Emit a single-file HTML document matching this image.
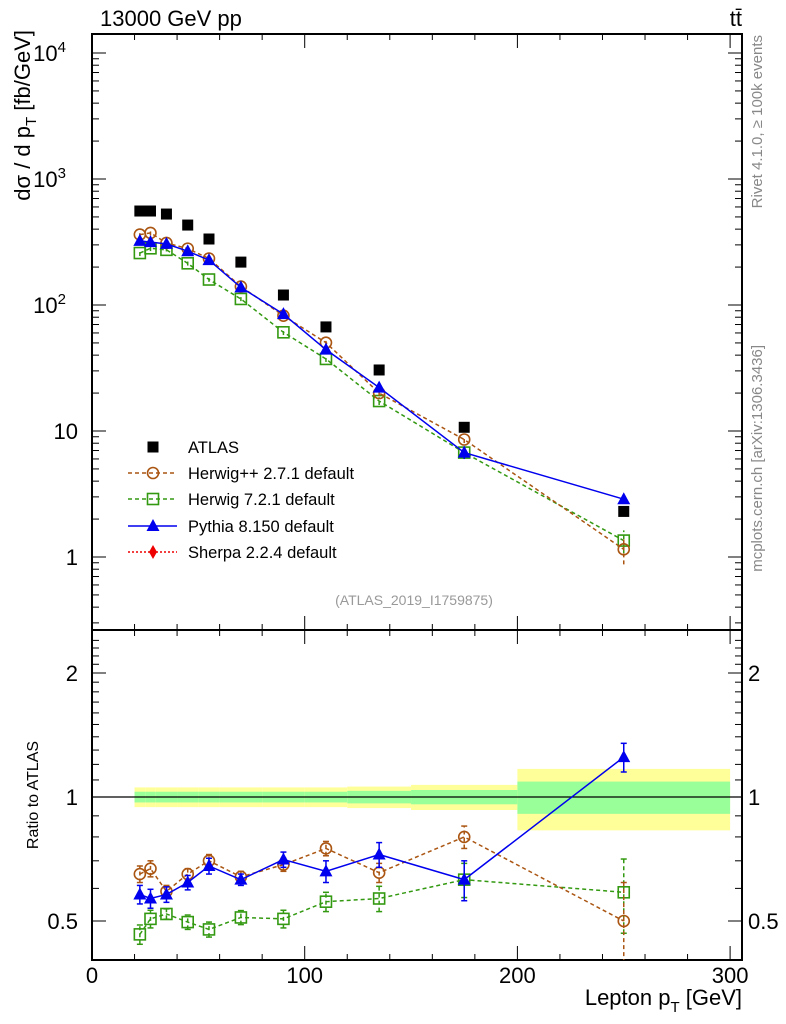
<!DOCTYPE html>
<html><head><meta charset="utf-8"><style>
html,body{margin:0;padding:0;background:#fff;}
svg{display:block;font-family:"Liberation Sans",sans-serif;}
</style></head><body>
<svg id="c" width="786" height="1024" viewBox="0 0 786 1024" xmlns="http://www.w3.org/2000/svg">
</svg>
<script>
const xCenters=[22.5,27.5,35,45,55,70,90,110,135,175,250];
const binEdges=[20,25,30,40,50,60,80,100,120,150,200,300];
const atlas=[557,557,527,431,334,219,120,67,30.5,10.7,2.3];
const bandInner=[0.03,0.03,0.03,0.03,0.03,0.03,0.03,0.03,0.035,0.04,0.09];
const bandOuter=[0.055,0.055,0.055,0.055,0.055,0.055,0.055,0.055,0.06,0.07,0.17];
const herwigppRatio=[0.65,0.67,0.59,0.65,0.70,0.64,0.685,0.75,0.655,0.80,0.50];
const herwig7Ratio=[0.464,0.506,0.52,0.497,0.477,0.51,0.506,0.557,0.567,0.63,0.587];
const pythiaRatio=[0.58,0.567,0.58,0.62,0.68,0.63,0.705,0.66,0.725,0.63,1.25];
const herwigppErr=[0.03,0.03,0.02,0.02,0.025,0.02,0.025,0.03,0.035,0.05,0.12];
const herwig7Err=[0.025,0.025,0.015,0.02,0.02,0.02,0.025,0.03,0.04,0.06,0.12];
const pythiaErr=[0.03,0.03,0.025,0.025,0.03,0.02,0.03,0.04,0.05,0.07,0.1];
const ratioTicks=[0.5,1,2];

const NS="http://www.w3.org/2000/svg";
const svg=document.getElementById('c');
const L=92,R=742,T=34,MB=630,RB=960;
function X(v){return 92+v*2.127;}
function Y(v){return 557-126*Math.log10(v);}
function YR(r){return 797-124*Math.log2(r);}
function el(tag,attrs,parent){const e=document.createElementNS(NS,tag);for(const k in attrs)e.setAttribute(k,attrs[k]);(parent||svg).appendChild(e);return e;}
function txt(s,attrs,parent){const t=el('text',attrs,parent);t.textContent=s;return t;}

const defs=el('defs',{});
const cp1=el('clipPath',{id:'cm'},defs);el('rect',{x:L,y:T,width:R-L,height:MB-T},cp1);
const cp2=el('clipPath',{id:'cr'},defs);el('rect',{x:L,y:MB,width:R-L,height:RB-MB},cp2);

const gBand=el('g',{'clip-path':'url(#cr)'});


for(let i=0;i<atlas.length;i++){
  const x0=X(binEdges[i]),x1=X(binEdges[i+1]);
  const r1=el('rect',{x:x0,y:YR(1+bandOuter[i]),width:x1-x0,height:YR(1-bandOuter[i])-YR(1+bandOuter[i]),fill:'#ffff99'},gBand);
  
  
  const r2=el('rect',{x:x0,y:YR(1+bandInner[i]),width:x1-x0,height:YR(1-bandInner[i])-YR(1+bandInner[i]),fill:'#99ff99'},gBand);
  
  
}
el('line',{x1:L,x2:R,y1:YR(1),y2:YR(1),stroke:'#000','stroke-width':1.3});

const f1=el('rect',{x:L,y:T,width:R-L,height:MB-T,fill:'none',stroke:'#000','stroke-width':2});


const f2=el('rect',{x:L,y:MB,width:R-L,height:RB-MB,fill:'none',stroke:'#000','stroke-width':2});



for(let v=0;v<=300;v+=20){
  const maj=v%100===0,len=maj?14:6;
  for(const [yb,yt] of [[MB,T],[RB,MB]]){
    el('line',{x1:X(v),x2:X(v),y1:yb,y2:yb-len,stroke:'#000','stroke-width':1});
    el('line',{x1:X(v),x2:X(v),y1:yt,y2:yt+len,stroke:'#000','stroke-width':1});
  }
  if(maj){const t=txt(String(v),{x:X(v),y:983,'font-size':22,'text-anchor':'middle'});
    }
}
for(let d=-1;d<=4;d++){
  for(let m=1;m<10;m++){
    const v=m*Math.pow(10,d),y=Y(v);
    if(y<T||y>MB)continue;
    const len=m===1?14:7;
    el('line',{x1:L,x2:L+len,y1:y,y2:y,stroke:'#000'});
    el('line',{x1:R,x2:R-len,y1:y,y2:y,stroke:'#000'});
  }
}
function ylab(base,exp,y){
  const t=txt(base,{x:78,y:y+8,'font-size':22,'text-anchor':'end'});
  if(exp){t.setAttribute('x',66);const s=el('tspan',{'font-size':15,dy:-9},t);s.textContent=exp;}
  
}
ylab('1','',Y(1));ylab('10','',Y(10));ylab('10','2',Y(100));ylab('10','3',Y(1000));ylab('10','4',Y(10000));
for(let r=0.4;r<=2.5;r+=0.1){
  const y=YR(r);if(y<MB||y>RB)continue;
  const maj=Math.abs(r-0.5)<1e-6||Math.abs(r-1)<1e-6||Math.abs(r-2)<1e-6;
  const len=maj?14:7;
  el('line',{x1:L,x2:L+len,y1:y,y2:y,stroke:'#000'});el('line',{x1:R,x2:R-len,y1:y,y2:y,stroke:'#000'});
}
ratioTicks.forEach(r=>{
  const a=txt(String(r),{x:78,y:YR(r)+8,'font-size':22,'text-anchor':'end'});
  
  const b=txt(String(r),{x:748,y:YR(r)+8,'font-size':22});
  
});

function marker(type,x,y,col,g){
  if(type==='sq')return el('rect',{x:x-5.5,y:y-5.5,width:11,height:11,fill:'#000'},g);
  if(type==='osq')return el('rect',{x:x-5.5,y:y-5.5,width:11,height:11,fill:'none',stroke:col,'stroke-width':1.6},g);
  if(type==='oc')return el('circle',{cx:x,cy:y,r:5.5,fill:'none',stroke:col,'stroke-width':1.6},g);
  if(type==='tri')return el('path',{d:`M${x} ${y-7}L${x+6.5} ${y+5}L${x-6.5} ${y+5}Z`,fill:col},g);
  if(type==='dia')return el('path',{d:`M${x} ${y-7}L${x+4} ${y}L${x} ${y+7}L${x-4} ${y}Z`,fill:col},g);
}
function series(name,ratio,err,col,dash,type){
  const gm=el('g',{'clip-path':'url(#cm)'});
  
  
  const gr=el('g',{'clip-path':'url(#cr)'});
  
  
  const pm=[],pr=[];
  for(let i=0;i<xCenters.length;i++){pm.push(X(xCenters[i])+','+Y(atlas[i]*ratio[i]));pr.push(X(xCenters[i])+','+YR(ratio[i]));}
  const a={fill:'none',stroke:col,'stroke-width':1.5};if(dash)a['stroke-dasharray']=dash;
  el('polyline',Object.assign({points:pm.join(' ')},a),gm);
  el('polyline',Object.assign({points:pr.join(' ')},a),gr);
  for(let i=0;i<xCenters.length;i++){
    const x=X(xCenters[i]),r=ratio[i];
    const ea={stroke:col,'stroke-width':1.5};if(dash)ea['stroke-dasharray']=dash;
    el('line',Object.assign({x1:x,x2:x,y1:YR(r-err[i]),y2:YR(r+err[i])},ea),gr);
    el('line',{x1:x-3,x2:x+3,y1:YR(r-err[i]),y2:YR(r-err[i]),stroke:col,'stroke-width':1.5},gr);
    el('line',{x1:x-3,x2:x+3,y1:YR(r+err[i]),y2:YR(r+err[i]),stroke:col,'stroke-width':1.5},gr);
    const v=atlas[i]*r,ev=atlas[i]*err[i];
    el('line',Object.assign({x1:x,x2:x,y1:Y(Math.max(v-ev,0.01)),y2:Y(v+ev)},ea),gm);
    const m1=marker(type,x,Y(v),col,gm);
    
    
    const m2=marker(type,x,YR(r),col,gr);
    
    
  }
}
series('herwig7',herwig7Ratio,herwig7Err,'#339911','4,3','osq');
series('herwigpp',herwigppRatio,herwigppErr,'#aa5511','4,3','oc');
series('pythia',pythiaRatio,pythiaErr,'#0000ee',null,'tri');
for(let i=0;i<xCenters.length;i++){
  const m=marker('sq',X(xCenters[i]),Y(atlas[i]),'#000');
  
  
}

const leg=el('g',{});


const legItems=[['ATLAS','#000',null,'sq',447],['Herwig++ 2.7.1 default','#aa5511','4,3','oc',473],['Herwig 7.2.1 default','#339911','4,3','osq',499],['Pythia 8.150 default','#0000ee',null,'tri',526],['Sherpa 2.2.4 default','#ee0000','2,2','dia',552]];
legItems.forEach(([lab,col,dash,type,y])=>{
  const g=el('g',{},leg);
  
  
  if(type!=='sq'){const a={x1:128,x2:177,y1:y,y2:y,stroke:col,'stroke-width':1.5};if(dash)a['stroke-dasharray']=dash;el('line',a,g);}
  marker(type,153,y,col,g);
  txt(lab,{x:188,y:y+6,'font-size':16.5},g);
});

const wm=txt('(ATLAS_2019_I1759875)',{x:414,y:605,'font-size':14,fill:'#999','text-anchor':'middle'});

const t1=txt('13000 GeV pp',{x:100,y:26,'font-size':22});

const t2=txt('tt\u0304',{x:742,y:26,'font-size':22,'text-anchor':'end'});

const r1=txt('Rivet 4.1.0, \u2265 100k events',{x:0,y:0,'font-size':15,fill:'#888','text-anchor':'end',transform:'translate(762,35) rotate(-90)'});

const r2=txt('mcplots.cern.ch [arXiv:1306.3436]',{x:0,y:0,'font-size':15,fill:'#888','text-anchor':'end',transform:'translate(762,345) rotate(-90)'});

const yt=txt('',{x:0,y:0,'font-size':22,'text-anchor':'end',transform:'translate(30,30) rotate(-90)'});

const s0=el('tspan',{},yt);s0.textContent='dσ / d p';
const s1=el('tspan',{'font-size':15,dy:6},yt);s1.textContent='T';
const s2=el('tspan',{dy:-6},yt);s2.textContent=' [fb/GeV]';
const rt=txt('Ratio to ATLAS',{x:0,y:0,'font-size':16,'text-anchor':'middle',transform:'translate(38,795) rotate(-90)'});

const xt=txt('',{x:742,y:1005,'font-size':22,'text-anchor':'end'});

const x0=el('tspan',{},xt);x0.textContent='Lepton p';
const x1=el('tspan',{'font-size':15,dy:7},xt);x1.textContent='T';
const x2=el('tspan',{dy:-7},xt);x2.textContent=' [GeV]';
</script>
</body></html>
